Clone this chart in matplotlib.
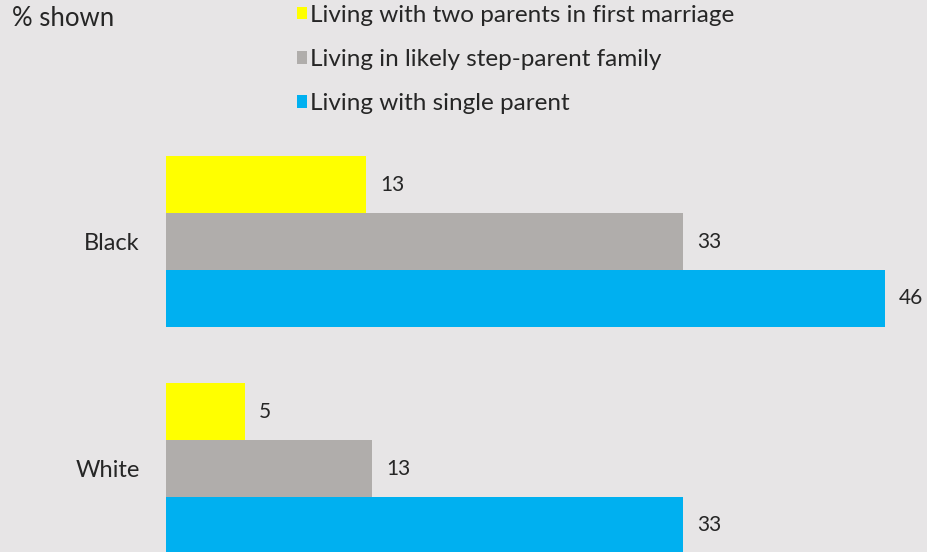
import matplotlib
matplotlib.use("Agg")
import matplotlib.pyplot as plt
import numpy as np

plt.rcParams['font.family'] = ['Lato', 'DejaVu Sans']

groups = ["Black", "White"]
series = ["Living with two parents in first marriage",
          "Living in likely step-parent family",
          "Living with single parent"]
values = {
    "Living with two parents in first marriage": [12.8, 5.05],
    "Living in likely step-parent family": [33.1, 13.2],
    "Living with single parent": [46.0, 33.1],
}
colors = ["#ffff00", "#b0adab", "#00b0f0"]
bg = "#e7e5e6"
txt = "#262626"

W, H = 928, 552
fig = plt.figure(figsize=(W / 100, H / 100), dpi=100, facecolor=bg)
ax = fig.add_axes([166 / W, 0, (885 - 166) / W, 1])
ax.set_facecolor(bg)

group_pos = np.array([0.0, 4.0])
offsets = [-1, 0, 1]
handles = []
for s, off, c in zip(series, offsets, colors):
    bars = ax.barh(group_pos + off, values[s], height=1.0, color=c, label=s)
    handles.append(bars)
    ax.bar_label(bars, labels=[f"{v:.0f}" for v in values[s]], padding=10,
                 fontsize=15, color=txt, clip_on=False)

ax.set_xlim(0, 46)
ax.set_ylim(5.471, -4.256)
ax.set_yticks(group_pos)
ax.set_yticklabels(groups, fontsize=17, color=txt)
ax.tick_params(axis='y', length=0, pad=19)
ax.set_xticks([])
for sp in ax.spines.values():
    sp.set_visible(False)

fig.text(12 / W, 1 - 18 / H, "% shown", fontsize=18.5, color=txt,
         ha='left', va='center')

leg = fig.legend(handles=handles, labels=series, loc='upper left',
                 bbox_to_anchor=(297 / W, 1 - 5 / H), frameon=False,
                 fontsize=17.5, handlelength=0.4, handleheight=0.4,
                 handletextpad=0.15, labelspacing=0.95, borderpad=0,
                 borderaxespad=0, labelcolor=txt)

fig.savefig("out.png", dpi=100, facecolor=bg)
